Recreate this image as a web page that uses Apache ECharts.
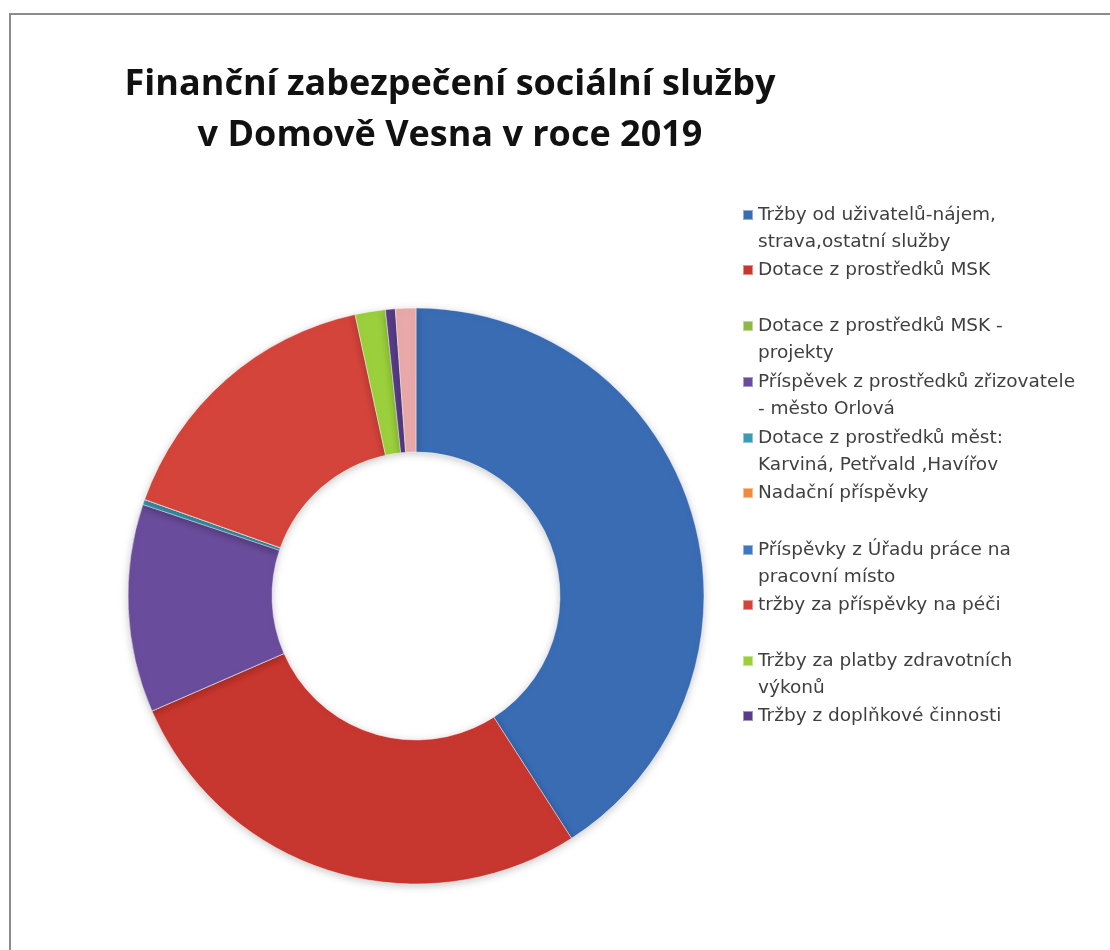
<!DOCTYPE html>
<html>
<head>
<meta charset="utf-8">
<script src="https://cdn.jsdelivr.net/npm/echarts@6/dist/echarts.min.js"></script>
<style>
  html, body { margin: 0; padding: 0; background: #fff; }
  #frame { position: absolute; left: 9px; top: 13px; width: 1101px; height: 937px;
           border-left: 2px solid #8c8c8c; border-top: 2px solid #8c8c8c; }
  #chart { position: absolute; left: 0; top: 0; width: 1110px; height: 950px; }
</style>
</head>
<body>
<div id="frame"></div>
<div id="chart"></div>
<script>
// ---- data ----
const titleText = 'Finanční zabezpečení sociální služby\nv Domově Vesna v roce 2019';
const categories = [
  'Tržby od uživatelů-nájem,\nstrava,ostatní služby',
  'Dotace z prostředků MSK',
  'Dotace z prostředků MSK -\nprojekty',
  'Příspěvek z prostředků zřizovatele\n- město Orlová',
  'Dotace z prostředků měst:\nKarviná, Petřvald ,Havířov',
  'Nadační příspěvky',
  'Příspěvky z Úřadu práce na\npracovní místo',
  'tržby za příspěvky na péči',
  'Tržby za platby zdravotních\nvýkonů',
  'Tržby z doplňkové činnosti',
  'Ostatní'
];
const shares = [41.0, 27.6, 0, 11.7, 0.3, 0, 0, 16.2, 1.7, 0.55, 1.15];
const legendCount = 10;
const colors = ['#3a6cb4', '#c8372f', '#8fb846', '#6a4c9c', '#3a9bb5', '#f08a3c',
                '#3f78c0', '#d4443b', '#9bd03c', '#5a3d8a', '#e9a9a9'];

// ---- chart ----
const chart = echarts.init(document.getElementById('chart'));
const legendIconY = [215, 270, 326, 382, 438, 493, 550, 605, 661, 716];
const LH = 27;
const legends = [];
for (let i = 0; i < legendCount; i++) {
  const twoLines = categories[i].indexOf('\n') >= 0;
  legends.push({
    orient: 'vertical',
    left: 742,
    top: legendIconY[i] - (twoLines ? 1.5 * LH : 0.5 * LH),
    padding: 0,
    itemWidth: 10,
    itemHeight: 10,
    icon: 'rect',
    selectedMode: false,
    data: [categories[i]],
    formatter: name => (name.indexOf('\n') >= 0 ? '\n' + name : name),
    textStyle: {
      fontFamily: 'DejaVu Sans',
      fontSize: 18.5,
      color: '#3f3f3f',
      lineHeight: LH
    }
  });
}

chart.setOption({
  animation: false,
  backgroundColor: 'transparent',
  color: colors,
  title: {
    text: titleText,
    left: 445,
    top: 54,
    textAlign: 'center',
    textStyle: {
      fontFamily: 'Open Sans',
      fontWeight: 'bold',
      fontSize: 36,
      lineHeight: 51,
      color: '#111'
    }
  },
  legend: legends,
  series: [{
    type: 'pie',
    center: [416, 596],
    radius: [144, 288],
    startAngle: 90,
    clockwise: true,
    avoidLabelOverlap: false,
    label: { show: false },
    labelLine: { show: false },
    emphasis: { disabled: true },
    itemStyle: {
      borderColor: 'rgba(255,255,255,0.45)',
      borderWidth: 1,
      shadowBlur: 8,
      shadowColor: 'rgba(0,0,0,0.22)',
      shadowOffsetY: 2
    },
    data: categories.map((n, i) => ({ name: n, value: shares[i] }))
  }]
});
</script>
</body>
</html>
